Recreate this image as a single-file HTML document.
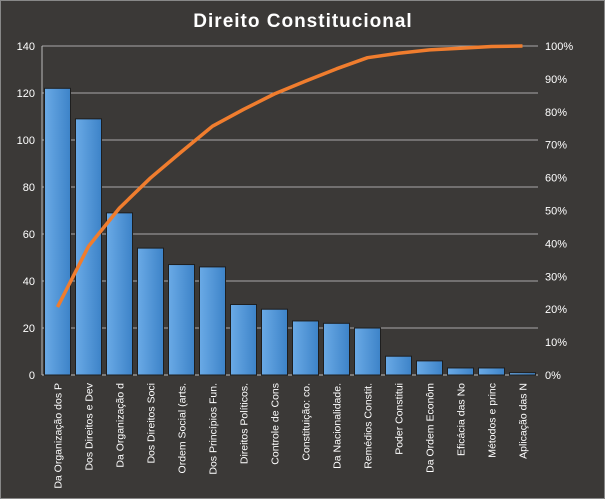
<!DOCTYPE html>
<html><head><meta charset="utf-8"><style>
body{margin:0;background:#fff}
#c{width:605px;height:499px;background:#3b3937;position:relative;overflow:hidden}
svg{position:absolute;left:0;top:0}
text{font-family:"Liberation Sans",sans-serif;fill:#fff}
</style></head><body>
<div id="c">
<svg id="s" width="605" height="499">
<defs><linearGradient id="g" x1="0" x2="1" y1="0" y2="0"><stop offset="0" stop-color="#6aaae6"/><stop offset="1" stop-color="#3d83c8"/></linearGradient></defs>
<rect x="0.5" y="0.5" width="604" height="498" fill="none" stroke="#888"/>
<text x="303" y="27" text-anchor="middle" font-size="19" font-weight="bold" letter-spacing="1">Direito  Constitucional</text>
</svg>
</div>
<script>
const categories=["Da Organização dos P","Dos Direitos e Dev","Da Organização d","Dos Direitos Soci","Ordem Social (arts.","Dos Princípios Fun.","Direitos Políticos.","Controle de Cons","Constituição: co.","Da Nacionalidade.","Remédios Constit.","Poder Constitui","Da Ordem Econôm","Eficácia das No","Métodos e princ","Aplicação das N"];
const values=[122,109,69,54,47,46,30,28,23,22,20,8,6,3,3,1];
const leftTicks=[0,20,40,60,80,100,120,140];
const rightTicks=[0,10,20,30,40,50,60,70,80,90,100];
const NS="http://www.w3.org/2000/svg",s=document.getElementById('s');
const L=42,R=538,T=46,B=375;
const y=v=>B-(v/140)*(B-T), yp=p=>B-(p/100)*(B-T);
const bw=(R-L)/categories.length, xc=i=>L+bw*(i+0.5);
function mk(t,a,p){const e=document.createElementNS(NS,t);for(const k in a)e.setAttribute(k,a[k]);(p||s).appendChild(e);return e;}
leftTicks.forEach(v=>{
 const g=mk('line',{x1:L,x2:R,y1:y(v),y2:y(v),stroke:v?'#a8a8a8':'#bbb','stroke-width':1});
 
 
 const t=mk('text',{x:35,y:y(v)+4,'text-anchor':'end','font-size':11});t.textContent=v;
 
 
});
rightTicks.forEach(p=>{
 const t=mk('text',{x:545,y:yp(p)+4,'font-size':11});t.textContent=p+'%';
 
 
});
const ax=mk('line',{x1:L,x2:L,y1:T,y2:B,stroke:'#bbb'});


values.forEach((v,i)=>{
 const r=mk('rect',{x:xc(i)-13,y:y(v),width:26,height:B-y(v),fill:'url(#g)',stroke:'#1e1e1e','stroke-width':1});
 
 
 const t=mk('text',{transform:`translate(${xc(i)+4},383) rotate(-90)`,'text-anchor':'end','font-size':10.5});t.textContent=categories[i];
 
 
});
const tot=values.reduce((a,b)=>a+b,0);let c=0;
const pts=values.map((v,i)=>{c+=v;return xc(i)+','+yp(c/tot*100);}).join(' ');
const pl=mk('polyline',{points:pts,fill:'none',stroke:'#f07d2e','stroke-width':3.5,'stroke-linejoin':'round'});


</script>
</body></html>
